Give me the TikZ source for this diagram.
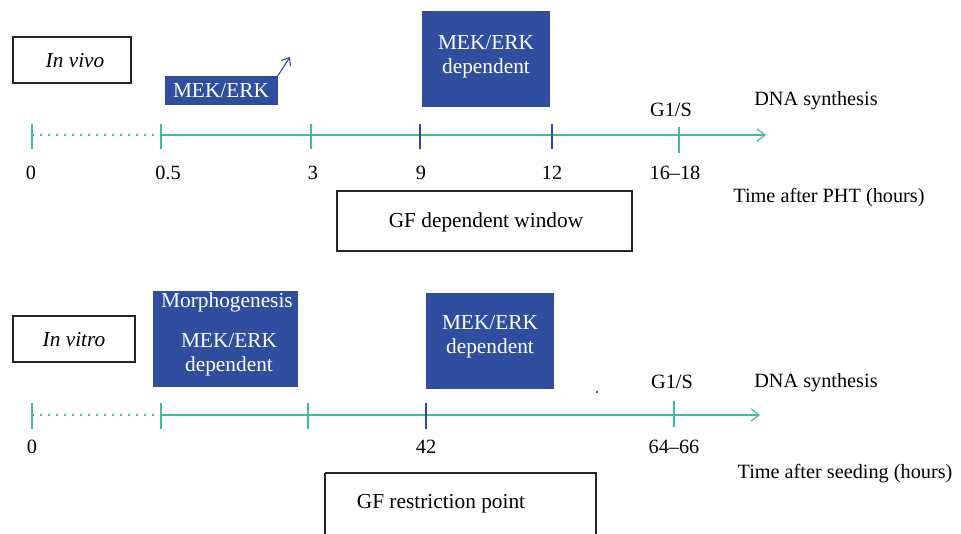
\documentclass[tikz,border=0pt]{standalone}
\usepackage{fontspec}
\setmainfont{Liberation Serif}
\usepackage{xcolor}
\usetikzlibrary{calc,arrows.meta}
\definecolor{mekblue}{RGB}{47,78,160}
\definecolor{lngreen}{RGB}{60,190,150}
\definecolor{tkblue}{RGB}{45,70,170}

\begin{document}
\begin{tikzpicture}[x=0.75pt,y=0.75pt,yscale=-1,xscale=1,
  txt/.style={font=\fontsize{15.2}{17}\selectfont, inner sep=0.75pt},
  btxt/.style={font=\fontsize{16}{18}\selectfont, inner sep=0.75pt},
  wtxt/.style={btxt, color=white, align=center},
  gtick/.style={color=lngreen, line width=0.9pt},
  btick/.style={color=tkblue, line width=0.9pt},
  dotline/.style={color=lngreen, line width=0.9pt, dash pattern=on 1.2pt off 4.8pt},
  tline/.style={color=lngreen, line width=0.9pt, -{Straight Barb[length=6pt,width=9pt]}}]
\useasboundingbox (0,0) rectangle (961,534);

%%%%%%%%%% In vivo %%%%%%%%%%
%Shape: Rectangle
\draw [line width=0.9pt, color=black!85] (13,37) rectangle (131,83);
\node (vivo) [btxt, font=\fontsize{16}{18}\selectfont\itshape] at (75,61) {In vivo};
%Shape: Rectangle
\draw [draw=none, fill=mekblue] (165,76) rectangle (278,105);
\node (mek) [wtxt] at (221,91) {MEK/ERK};
\coordinate (mekc) at (277,77);
\coordinate (mekup) at (290,57);
\draw [color=tkblue, line width=0.8pt, -{Straight Barb[length=5pt,width=8pt]}] (mekc) -- (mekup);
%Shape: Rectangle
\draw [draw=none, fill=mekblue] (422,11) rectangle (550,107);
\node (mekdep) [wtxt] at (486,57) {MEK/ERK\\[0pt]dependent};

% time line
\coordinate (a0) at (32,135);
\coordinate (a1) at (161,135);
\coordinate (a2) at (311,135);
\coordinate (a3) at (420,135);
\coordinate (a4) at (552,135);
\coordinate (a5) at (679,135);
\coordinate (aend) at (766,135);
\draw [dotline] (a0) -- (a1);
\draw [tline] (a1) -- (aend);
\foreach \p in {a0,a1,a2} \draw [gtick] ($(\p)+(0,-11)$) -- ($(\p)+(0,14)$);
\draw [gtick] ($(a5)+(0,-8)$) -- ($(a5)+(0,18)$);
\foreach \p in {a3,a4} \draw [btick] ($(\p)+(0,-11)$) -- ($(\p)+(0,14)$);

% Text Node
\node (t0) [txt] at (31,173) {0};
\node (t05) [txt] at (168,173) {0.5};
\node (t3) [txt] at (313,173) {3};
\node (t9) [txt] at (421,173) {9};
\node (t12) [txt] at (552,173) {12};
\node (t16) [txt] at (675,173) {16–18};
\node (gs1) [txt] at (671,110) {G1/S};
\node (dna1) [txt] at (816,101) {DNA synthesis};
\node (pht) [txt] at (829,198) {Time after PHT (hours)};
%Shape: Rectangle
\draw [line width=0.9pt, color=black!85] (337,191) rectangle (632,251);
\node (gfwin) [btxt] at (486,222) {GF dependent window};

%%%%%%%%%% In vitro %%%%%%%%%%
%Shape: Rectangle
\draw [line width=0.9pt, color=black!85] (13,316) rectangle (135,362);
\node (vitro) [btxt, font=\fontsize{16}{18}\selectfont\itshape] at (74,340) {In vitro};
%Shape: Rectangle
\draw [draw=none, fill=mekblue] (153,291) rectangle (298,387);
\node (morph) [wtxt] at (227,302) {Morphogenesis};
\node (mekdep2) [wtxt] at (229,355) {MEK/ERK\\[0pt]dependent};
%Shape: Rectangle
\draw [draw=none, fill=mekblue] (426,293) rectangle (554,389);
\node (mekdep3) [wtxt] at (490,337) {MEK/ERK\\[0pt]dependent};
%Shape: Circle
\fill (597,392) circle (1);

% time line
\coordinate (b0) at (32,415);
\coordinate (b1) at (161,415);
\coordinate (b2) at (308,415);
\coordinate (b3) at (426,415);
\coordinate (b4) at (674,415);
\coordinate (bend) at (760,415);
\draw [dotline] (b0) -- (b1);
\draw [tline] (b1) -- (bend);
\foreach \p in {b0,b1,b2} \draw [gtick] ($(\p)+(0,-12)$) -- ($(\p)+(0,14)$);
\draw [gtick] ($(b4)+(0,-14)$) -- ($(b4)+(0,12)$);
\draw [btick] ($(b3)+(0,-12)$) -- ($(b3)+(0,14)$);

% Text Node
\node (u0) [txt] at (32,447) {0};
\node (u42) [txt] at (426,447) {42};
\node (u64) [txt] at (674,447) {64–66};
\node (gs2) [txt] at (672,382) {G1/S};
\node (dna2) [txt] at (816,383) {DNA synthesis};
\node (seed) [txt] at (845,474) {Time after seeding (hours)};
%Shape: Rectangle
\draw [line width=0.9pt, color=black!85] (325,473) -- (325,534) (325,473) -- (596,473) -- (596,534);
\node (gfres) [btxt] at (441,504) {GF restriction point};

\end{tikzpicture}
\end{document}
